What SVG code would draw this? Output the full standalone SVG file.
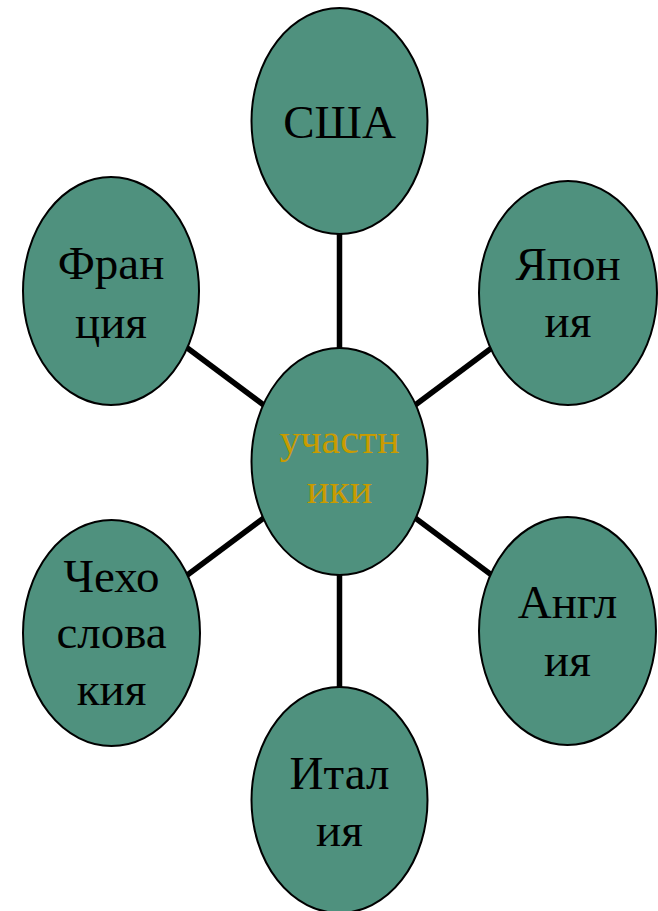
<svg xmlns="http://www.w3.org/2000/svg" width="658" height="911" viewBox="0 0 658 911">
<style>
.n{fill:#4f917e;stroke:#000;stroke-width:2}
.t{font-family:"Liberation Serif","Times New Roman",serif;font-size:47px;fill:#000;text-anchor:middle}
.c{fill:#c99b00;font-size:42px}
.e{stroke:#000;stroke-width:5.5;fill:none}
</style>
<rect width="658" height="911" fill="#fff"/>
<g id="connectors">
<line class="e" x1="339.5" y1="461.5" x2="339.5" y2="120"/>
<line class="e" x1="339.5" y1="461.5" x2="339.5" y2="800"/>
<line class="e" x1="339.5" y1="461.5" x2="111" y2="291"/>
<line class="e" x1="339.5" y1="461.5" x2="568" y2="291"/>
<line class="e" x1="339.5" y1="461.5" x2="111" y2="632"/>
<line class="e" x1="339.5" y1="461.5" x2="568" y2="632"/>
</g>
<g id="usa"><ellipse class="n" cx="339.5" cy="121" rx="88" ry="113"/><text class="t" x="339.5" y="138">США</text></g>
<g id="france"><ellipse class="n" cx="111" cy="291" rx="88" ry="114"/><text class="t" x="111" y="279">Фран</text><text class="t" x="111" y="338">ция</text></g>
<g id="japan"><ellipse class="n" cx="568" cy="293" rx="89" ry="112"/><text class="t" x="568" y="280">Япон</text><text class="t" x="568" y="337">ия</text></g>
<g id="participants"><ellipse class="n" cx="339.5" cy="461.5" rx="88" ry="113.5"/><text class="t c" x="339.5" y="453">участн</text><text class="t c" x="339.5" y="503">ики</text></g>
<g id="czechoslovakia"><ellipse class="n" cx="111.5" cy="633" rx="88.5" ry="113"/><text class="t" x="111.5" y="592">Чехо</text><text class="t" x="111.5" y="648">слова</text><text class="t" x="111.5" y="705">кия</text></g>
<g id="england"><ellipse class="n" cx="567.5" cy="631" rx="88.5" ry="114"/><text class="t" x="567.5" y="618">Англ</text><text class="t" x="567.5" y="676">ия</text></g>
<g id="italy"><ellipse class="n" cx="339.5" cy="800" rx="88" ry="113"/><text class="t" x="339.5" y="789">Итал</text><text class="t" x="339.5" y="846">ия</text></g>
</svg>
